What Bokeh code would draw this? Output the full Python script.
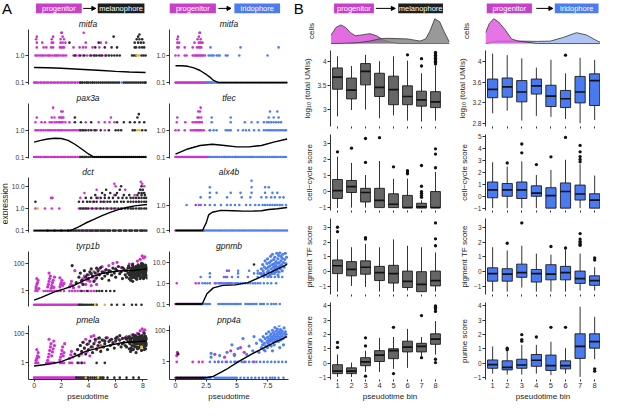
import math
from bokeh.plotting import figure
from bokeh.layouts import column, row
from bokeh.models import Range1d, FixedTicker, Arrow, NormalHead
from bokeh.core.properties import value
from bokeh.embed import file_html
from bokeh.resources import INLINE

FONT = "Liberation Sans"
MAG = "#CC33CC"
BLK = "#2B2B2B"
BLU = "#4F7FEF"
YEL = "#E3B52A"

# ---------------- Panel A data (pseudotime, expression) ----------------
# level rows: expression value -> list of pseudotime positions
MITFA_M_PROG = {0.1: [0.0,0.1,0.2,0.3,0.45,0.55,0.7,0.8,0.95,1.05,1.2,1.3,1.45,1.55,1.7,1.8,1.95,2.05,2.2,2.3,2.45,2.55,2.7,2.8,2.95,3.05,3.2,3.35,3.5,3.9,4.3],
                1: [0.1,0.2,0.35,0.5,0.6,0.7,0.85,1.0,1.1,1.2,1.35,1.5,1.6,1.7,1.8,1.95,2.1,2.2,2.35,2.9,3.1,3.3,3.6,3.9,4.1,4.5,4.9,5.2],
                2: [0.2,0.7,0.9,1.25,1.4,1.9,2.0,2.1,2.2,2.9,3.35,3.6,3.8,4.3,4.8],
                3: [0.2,0.6,1.3,1.4,1.95,2.1,2.3,3.8,4.9,5.3],
                4: [0.15,1.3,1.95,2.2], 5: [0.2,1.4,2.1], 7: [2.0,2.05,3.65]}
MITFA_M_MEL = {0.1: [3.4,3.55,3.7,3.85,4.0,4.15,4.3,4.45,4.6,4.75,4.9,5.05,5.2,5.35,5.5,5.65,5.8,5.95,6.1,6.25,6.6,6.75,6.9,7.05,7.2,7.35,7.5,7.65,7.8,7.95,8.1,8.2],
               1: [3.0,3.4,3.7,4.2,4.4,4.6,4.8,5.0,5.3,5.5,5.7,5.9,6.1,6.3,7.2,7.35,7.5,7.9,8.05,8.2],
               2: [4.5,5.2,5.7,6.1,7.4,7.5,7.75,7.95,8.1],
               3: [2.6,4.75,7.4,7.65,7.85,8.05], 4: [7.55,7.75,7.95], 5: [5.85,7.65], 6: [7.75]}
MITFA_M_IRI = {0.1: [6.45]}
MITFA_M_YEL = {1: [7.55,7.7]}
MITFA_M_CURVE_X = [0,1,2,3,4,5,6,7,8.2]
MITFA_M_CURVE_Y = [0.36,0.355,0.34,0.32,0.30,0.28,0.26,0.245,0.235]

PAX3A_PROG = {0.1: [0.0,0.1,0.2,0.3,0.45,0.55,0.7,0.8,0.95,1.05,1.2,1.3,1.45,1.55,1.7,1.8,1.95,2.05,2.2,2.3,2.45,2.55,2.7,2.8,2.95,3.05,3.2,3.35,3.5,3.65,3.8],
              1: [0.1,0.2,0.3,0.45,0.55,0.7,0.85,1.0,1.1,1.2,1.3,1.45,1.55,1.7,1.8,1.9,2.0,2.1,2.25,2.4,2.55,2.7,2.85,3.0,3.15,3.3,3.5,3.7,4.4,4.6,5.2],
              2: [0.1,0.55,0.8,1.15,1.3,1.5,1.65,1.8,1.9,2.0,2.1,2.3,2.6,3.8,4.75,5.2,5.55,5.9],
              3: [0.2,1.3,1.5,1.85,1.95,2.05,2.15,5.65], 5: [2.0,2.1], 7: [1.4]}
PAX3A_MEL = {0.1: [3.4,3.55,3.7,3.85,4.0,4.15,4.3,4.45,4.6,4.75,4.9,5.05,5.2,5.35,5.5,5.65,5.8,5.95,6.1,6.25,6.4,6.55,6.7,6.85,7.0,7.15,7.3,7.45,7.6,7.75,7.9,8.05,8.2],
             1: [3.4,3.6,3.8,4.0,4.2,4.5,4.9,5.5,6.0,6.2,6.4,7.25,7.4,7.95,8.2],
             2: [3.0,3.45,4.2,6.1,6.6,7.05,7.4,7.75,8.1], 3: [3.0,7.6], 4: [7.7]}
PAX3A_YEL = {1: [7.6,7.75]}
PAX3A_CURVE_X = [0,0.5,1,1.5,2,2.5,3,3.5,4,4.4,5,6,7,8.2]
PAX3A_CURVE_Y = [0.36,0.42,0.47,0.5,0.49,0.42,0.3,0.2,0.13,0.1,0.1,0.1,0.1,0.1]

DCT_PROG = {0.1: [0.0,0.1,0.2,0.3,0.4,0.5,0.6,0.7,0.8,0.9,1.0,1.1,1.2,1.3,1.4,1.5,1.6,1.7,1.8,1.9,2.0,2.1,2.2,2.3,2.4,2.5,2.6,2.8,3.0,3.2,3.4,3.7,4.0,4.4,4.8,5.3],
            1: [0.1,0.8,1.3,1.85,3.3,3.5,3.7,3.9,4.2,4.5,4.8,5.3,5.6,6.0,6.5,7.2,7.8],
            2: [4.3,5.2,7.7], 3: [1.25,1.35,3.4,4.7], 4: [5.9,7.4], 5: [3.7,8.0],
            7: [4.6,6.7,7.85], 10: [6.0,8.1], 13: [5.9,7.95], 16: [7.85]}
DCT_MEL = {0.1: [1.0,1.5,2.0,2.5,2.7,2.9,3.1,3.3,3.5,3.6,3.8,3.9,4.1,4.2,4.3,4.5,4.6,4.7,4.9,5.0,5.1,5.2,5.4,5.5,5.6,5.8,5.9,6.0,6.2,6.3,6.4,6.6,6.7,6.8,7.0,7.1,7.2,7.4,7.5,7.6,7.8,7.9,8.0,8.15,8.3],
           1: [3.4,3.6,3.8,4.0,4.3,4.6,4.9,5.1,5.4,5.7,5.9,6.2,6.4,6.7,6.9,7.1,7.3,7.5,7.7,7.9,8.1,8.25],
           2: [0.1,3.3,3.6,3.9,4.1,4.4,4.6,4.9,5.1,5.4,5.6,5.9,6.1,6.4,6.6,6.9,7.1,7.3,7.5,7.7,7.9,8.1,8.25],
           3: [3.8,4.2,4.6,4.9,5.2,5.5,5.8,6.2,6.5,6.8,7.1,7.3,7.5,7.7,7.9,8.1,8.25],
           4: [4.5,5.2,6.0,6.6,7.0,7.6,7.9,8.15], 5: [5.0,5.6,6.1,7.7,7.9,8.1],
           7: [5.3,6.3,7.8,8.0], 10: [6.4,7.9]}
DCT_YEL = {1: [0.25]}
DCT_CURVE_X = [0,1,2,2.66,3.2,3.8,4.4,5.0,5.6,6.2,6.8,7.4,8.3]
DCT_CURVE_Y = [0.1,0.1,0.1,0.1,0.14,0.22,0.32,0.47,0.66,0.88,1.1,1.3,1.5]

TYRP1B_PROG = {0.1: [0.0,0.1,0.2,0.3,0.4,0.5,0.6,0.7,0.8,0.9,1.0,1.1,1.2,1.3,1.4,1.5,1.6,1.7,1.8,1.9,2.0,2.1,2.2,2.3,2.4,2.5,2.6,2.7,2.8,2.9,3.0,3.1,3.2,3.35,3.5],
               1: [0.1,0.25,0.7,0.85,1.0,1.15,1.3,1.5,1.65,1.8,1.95,2.2,2.6,2.8,3.0,3.2,3.4,3.7,4.0,4.2,4.4]}
TYRP1B_MEL = {0.1: [3.3,3.45,3.6,3.75,3.9,4.05,4.2,4.35,4.6,5.7,6.1,6.6,7.2,7.5,7.9],
              1: [3.5,3.9,4.6,4.8,5.0,5.3,5.6,5.9]}
TYRP1B_YEL = {0.1: [4.5,5.2]}
TYRP1B_PROG_CLOUD = [(0.15,2),(0.2,3),(0.25,4),(0.3,6),(0.2,8),(0.35,1.5),(0.15,1.4),(1.0,2),(1.05,3),(1.1,5),(1.15,8),(1.2,12),(1.3,2.5),(1.35,4),(1.4,6),(1.5,10),(1.1,20),(1.25,1.6),(1.45,1.8),(1.9,2),(1.95,3),(2.0,4),(2.05,6),(2.1,2.5),(2.2,3.5),(1.9,9),(2.6,2),(2.7,3),(2.75,5),(2.85,2.5),(2.9,1.7),(3.0,30),(3.3,2),(3.5,4),(3.6,8),(3.7,12),(3.8,3),(3.9,6),(4.0,15),(4.1,5),(4.2,2.5),(4.3,10),(4.4,25),(4.5,7),(4.6,3),(4.7,18),(4.8,40),(5.0,60),(5.2,30),(5.5,70),(5.8,100),(6.1,120),(6.4,50),(6.7,30),(7.0,90),(7.4,40),(7.6,150),(7.8,200),(7.95,350),(8.05,250),(8.15,300)]
TYRP1B_MEL_CLOUD = [(2.8,70),(3.1,4),(3.3,10),(3.4,20),(3.5,6),(3.6,3),(3.7,30),(3.8,10),(3.9,15),(4.0,8),(4.1,25),(4.2,40),(4.3,12),(4.4,5),(4.5,20),(4.6,9),(4.7,30),(4.8,15),(4.9,50),(5.0,8),(5.1,22),(5.2,12),(5.3,35),(5.4,18),(5.5,6),(5.6,28),(5.7,14),(5.8,45),(5.9,20),(6.0,10),(6.1,30),(6.2,60),(6.3,18),(6.4,25),(6.5,8),(6.6,40),(6.7,15),(6.8,30),(6.9,20),(7.0,50),(7.1,12),(7.15,35),(7.2,25),(7.25,70),(7.3,15),(7.35,45),(7.4,30),(7.45,9),(7.5,60),(7.55,20),(7.6,40),(7.65,80),(7.7,12),(7.75,30),(7.8,50),(7.85,22),(7.9,100),(7.95,40),(8.0,15),(8.05,65),(8.1,30),(8.15,45),(8.2,20),(8.25,55),(7.1,6),(7.2,9),(7.3,40),(7.4,18),(7.5,11),(7.6,25),(7.7,60),(7.8,8),(7.9,35),(8.0,28),(8.1,10),(8.2,75),(8.25,14),(7.05,22),(7.35,28),(7.65,16),(7.95,60),(8.15,24),(7.25,5),(7.55,35),(7.85,45),(8.05,18),(7.45,55),(7.75,20),
                    (6.8,10),(6.9,45),(7.0,15),(7.0,8),(7.1,30),(7.15,18),(7.2,45),(7.3,10),(7.35,20),(7.4,50),(7.45,14),(7.5,35),(7.55,7),(7.6,55),(7.65,30),(7.7,20),(7.75,45),(7.8,15),(7.85,70),(7.9,10),(7.95,25),(8.0,45),(8.05,8),(8.1,55),(8.15,12),(8.2,35),(8.25,28),(8.3,40),(8.3,9),(6.95,65),(7.25,90),(7.6,12),(8.0,90),(6.5,50),(6.0,40),(5.5,30),(5.0,25),(4.6,45),(4.2,18)]
TYRP1B_CURVE_X = [0,0.5,1.5,2.2,2.9,3.8,4.4,5.0,6.1,7.3,8.3]
TYRP1B_CURVE_Y = [0.215,0.33,0.86,1.4,2.4,6.6,12,18.5,28,31,40]

PMELA_PROG = {0.1: [0.0,0.1,0.2,0.3,0.4,0.5,0.6,0.7,0.8,0.9,1.0,1.1,1.2,1.3,1.4,1.5,1.6,1.7,1.8,1.9,2.0,2.1,2.2,2.3,2.4,2.5,2.6,2.7,2.8,2.9,3.0,3.1,3.2,3.35,3.5,3.65,3.8],
              1: [0.1,0.2,0.3,0.9,1.0,1.1,1.2,1.3,1.4,1.5,1.9,2.0,2.1,2.2,2.6,2.7,2.8,3.3,3.5,3.7]}
PMELA_MEL = {0.1: [3.1,3.25,3.4,3.55,3.7,3.9,4.0,4.15,4.3,4.45,4.6,4.85,5.0,5.1,5.4,5.9,6.3,6.8,7.3,7.7],
             1: [3.2,3.5,4.6,5.2]}
PMELA_YEL = {0.1: [3.8,4.7]}
PMELA_PROG_CLOUD = [(0.15,1.5),(0.2,2),(0.25,3),(0.3,5),(0.2,8),(0.35,2.5),(1.0,1.5),(1.05,2.5),(1.1,4),(1.15,7),(1.2,12),(1.25,20),(1.3,3),(1.35,5.5),(1.4,9),(1.45,30),(1.5,15),(1.1,40),(1.9,1.6),(1.95,2.5),(2.0,4),(2.05,7),(2.1,12),(2.15,3),(2.2,5),(2.25,20),(2.6,2),(2.7,3.5),(2.75,6),(2.85,2.5),(3.2,8),(3.4,15),(3.5,4),(3.6,25),(3.7,10),(3.8,40),(3.9,6),(4.0,20),(4.1,3),(4.2,60),(4.3,12),(4.4,70),(4.5,30),(4.6,8),(4.7,45),(4.9,15),(5.1,35),(5.4,50),(5.8,25),(6.2,40),(6.8,60),(7.2,80),(7.6,100),(7.8,150),(7.95,200),(8.05,130),(8.15,170)]
PMELA_MEL_CLOUD = [(3.0,4),(3.2,8),(3.3,3),(3.4,15),(3.5,6),(3.6,25),(3.7,10),(3.8,4),(3.9,18),(4.0,8),(4.1,30),(4.2,12),(4.3,5),(4.4,20),(4.5,40),(4.6,9),(4.7,15),(4.8,25),(4.9,6),(5.0,35),(5.1,12),(5.2,20),(5.3,50),(5.4,8),(5.5,28),(5.6,15),(5.7,40),(5.8,22),(5.9,10),(6.0,30),(6.1,55),(6.2,18),(6.3,35),(6.4,12),(6.5,45),(6.6,25),(6.7,15),(6.8,40),(6.9,28),(7.0,60),(7.05,20),(7.1,35),(7.15,10),(7.2,50),(7.25,25),(7.3,80),(7.35,15),(7.4,40),(7.45,30),(7.5,60),(7.55,12),(7.6,45),(7.65,25),(7.7,90),(7.75,35),(7.8,18),(7.85,55),(7.9,30),(7.95,70),(8.0,22),(8.05,45),(8.1,100),(8.15,30),(8.2,60),(8.25,40),(7.1,6),(7.3,8),(7.5,5),(7.7,10),(7.9,7),(8.1,12),(8.2,9),(7.6,20),(7.8,65),(8.0,35),(7.4,22),(7.2,15),(8.15,18),(7.95,48),(7.65,38),(7.35,55),(7.05,42),
                   (6.8,12),(6.9,50),(7.0,25),(7.0,9),(7.1,45),(7.15,28),(7.2,8),(7.3,25),(7.35,35),(7.4,12),(7.45,70),(7.5,20),(7.55,40),(7.6,9),(7.65,55),(7.7,28),(7.75,12),(7.8,40),(7.85,22),(7.9,60),(7.95,15),(8.0,50),(8.05,28),(8.1,8),(8.15,65),(8.2,25),(8.25,15),(8.3,45),(8.3,20),(6.5,20),(6.0,45),(5.6,35),(5.2,30),(4.8,50),(6.3,70),(6.7,50)]
PMELA_YEL_CLOUD = [(4.9,10),(7.9,12)]
PMELA_CURVE_X = [0,1,2,3,3.8,4.7,5.5,6.3,7.2,8.3]
PMELA_CURVE_Y = [0.62,0.8,1.2,2.8,6,10,15,22,26,31]

MITFA_I_PROG = {0.1: [0.0,0.1,0.2,0.3,0.4,0.5,0.6,0.7,0.8,0.9,1.0,1.1,1.2,1.3,1.4,1.5,1.6,1.7,1.8,1.9,2.0,2.1,2.2,2.3,2.4,2.5,2.6,2.7,2.9],
                1: [0.0,0.25,0.75,0.9,1.4,1.55,1.65,1.75,1.85,1.95,2.05,2.15,2.25,2.4],
                2: [0.15,0.25,0.75,1.4,1.75,1.9,2.0,2.1], 3: [0.15,0.3,1.55,1.9,2.0,2.1,2.2],
                4: [0.15,1.8,2.05], 5: [0.2,1.9], 7: [1.95,2.0]}
MITFA_I_IRI = {0.1: [2.6,2.75,2.9,3.05,3.2,3.35,3.5,3.65,3.8,3.95,4.1,4.25,4.4,4.55,4.7,4.85,5.0,5.15,5.3,5.45,5.6,5.75,5.9,6.05,6.2,6.35,6.5,6.65,6.8,6.95,7.1,7.25,7.4,7.55,7.7,7.85,8.0,8.15,8.3,8.45,8.6,8.75,8.9,9.05],
               1: [2.7,2.85,3.0,3.1,3.35,3.5,3.6,4.1,4.25,5.2,7.5], 2: [2.85,5.3,8.4]}
MITFA_I_CURVE_X = [0,0.5,1,1.5,2,2.5,2.8,3.1,3.5,4,5,6,7,8,9.1]
MITFA_I_CURVE_Y = [0.42,0.42,0.4,0.35,0.28,0.2,0.16,0.12,0.1,0.1,0.1,0.1,0.1,0.1,0.1]

TFEC_PROG = {0.1: [0.0,0.1,0.2,0.3,0.4,0.5,0.6,0.7,0.8,0.9,1.0,1.1,1.2,1.3,1.4,1.5,1.6,1.7,1.8,1.9,2.0,2.1,2.2,2.3,2.4,2.5,2.6,2.8,4.0,4.9,6.2],
             1: [0.0,0.25,0.75,1.25,1.4,1.55,1.65,1.75,1.85,1.95,2.05,2.15,2.3,2.8],
             2: [0.1,0.8,1.4,1.6,1.75,1.9,2.0,2.15], 3: [0.15,1.8,1.9,2.1], 5: [1.85,2.0], 7: [2.05]}
TFEC_IRI = {0.1: [2.7,2.85,3.0,3.15,3.3,3.45,3.6,3.75,3.9,4.05,4.2,4.35,4.5,4.65,4.8,4.95,5.1,5.25,5.4,5.55,5.7,5.85,6.0,6.15,6.3,6.45,6.6,6.75,6.9,7.05,7.2,7.35,7.5,7.65,7.8,7.95,8.1,8.25,8.4,8.55,8.7,8.85,9.0],
            1: [2.8,3.1,3.35,4.1,4.25,4.4,4.5,5.1,5.5,5.75,6.0,6.4,6.8,7.2,7.4,7.55,7.7,7.85,8.0,8.15,8.3,8.45,8.6,8.75,8.9,9.0],
            2: [2.95,4.5,5.65,6.2,6.7,7.2,7.45,7.6,7.8,8.0,8.2,8.4,8.6], 3: [2.95,4.5,7.6,8.0,8.4], 5: [7.7,8.3]}
TFEC_CURVE_X = [0,1,2,3,4,5,6,7,8,9.1]
TFEC_CURVE_Y = [0.128,0.2,0.27,0.3,0.27,0.24,0.24,0.27,0.36,0.47]

ALX4B_PROG = {0.1: [0.0,0.1,0.2,0.3,0.4,0.5,0.6,0.7,0.8,0.9,1.0,1.1,1.2,1.3,1.4,1.5,1.6,1.7,1.8,1.9,2.0,2.1,2.2,2.3],
              1: [1.65,2.05]}
ALX4B_IRI = {0.1: [2.2,2.35,2.5,2.65,2.8,2.95,3.1,3.25,3.4,3.55,3.7,3.85,4.0,4.15,4.3,4.45,4.6,4.75,4.9,5.05,5.2,5.35,5.5,5.65,5.8,5.95,6.1,6.25,6.4,6.55,6.7,6.85,7.0,7.15,7.3,7.45,7.6,7.75,7.9,8.05,8.2,8.35,8.5,8.65,8.8,8.95,9.1],
             1: [0.9,1.9,2.4,2.8,3.2,3.7,4.2,4.5,4.85,5.2,5.75,6.1,6.5,6.8,7.1,7.3,7.5,7.7,7.9,8.1,8.3,8.5,8.7,9.0],
             2: [2.05,2.8,4.2,5.4,6.1,7.0,7.4,7.8,8.1,8.5,8.8], 3: [2.8,3.35,4.5,5.3,6.2,7.3,7.9,8.3],
             5: [2.8,6.2,7.3,7.6], 9: [6.2]}
ALX4B_CURVE_X = [0,1,2,2.2,2.5,2.7,3.0,3.7,4.7,5.5,6.3,7.0,7.6,8.3,9.1]
ALX4B_CURVE_Y = [0.1,0.1,0.1,0.1,0.2,0.41,0.52,0.62,0.6,0.58,0.58,0.6,0.67,0.72,0.8]

GPNMB_PROG = {0.1: [0.0,0.15,0.3,0.45,0.6,0.75,0.9,1.05,1.2,1.35,1.5,1.65,1.8,1.95,2.1],
              1: [0.1,1.65,1.9,3.2,3.7,4.2,4.5], 2: [3.95,4.2], 4: [4.2,4.35]}
GPNMB_MEL = {0.1: [0.08,0.22,0.38,0.52,0.68,0.82,0.98,1.12,1.28,1.42,1.58,1.72,1.88,2.02,2.15], 8: [6.4]}
GPNMB_IRI = {0.1: [2.2,2.35,2.5,2.65,2.8,3.5,3.65,3.8,3.95,4.1,4.25,4.4,4.55,4.7,4.85,5.0,5.15,5.3,5.7,5.85,6.0,6.15,6.3,6.45,6.6,6.9,7.05,7.2,7.5,7.8,8.0,8.2,8.5],
             1: [2.2,2.4,2.6,2.8,3.3,3.5,3.6,3.8,3.95,4.1,4.3,4.4,4.6,4.8,4.95,5.1,5.3,5.5,5.7,5.9,6.1,6.3,6.5,6.7,6.9,7.2,7.5,7.8,8.2],
             2: [2.05,2.8,4.1,4.6,5.1,5.9,6.7,7.2,7.5,7.8,8.1,8.4,8.7], 3: [2.8,5.1,6.4,6.7,7.0], 4: [4.2,5.1,6.0,6.7]}
GPNMB_IRI_CLOUD = [(6.9,3),(7.0,5),(7.05,2.5),(7.1,8),(7.15,4),(7.2,3),(7.25,6),(7.3,12),(7.35,2.5),(7.4,5),(7.45,9),(7.5,3.5),(7.5,15),(7.55,6),(7.6,4),(7.65,10),(7.7,2.5),(7.7,7),(7.75,20),(7.8,5),(7.8,12),(7.85,3),(7.9,8),(7.9,25),(7.95,4),(8.0,6),(8.0,14),(8.05,3),(8.05,9),(8.1,5),(8.1,18),(8.15,7),(8.2,3.5),(8.2,11),(8.25,6),(8.25,28),(8.3,4),(8.3,9),(8.35,15),(8.4,6),(8.4,22),(8.45,3.5),(8.45,10),(8.5,7),(8.5,30),(8.55,5),(8.6,12),(8.6,20),(8.65,8),(8.7,4),(8.7,16),(8.75,25),(8.8,10),(8.85,6),(8.9,14),(8.95,28),(9.0,9),(9.05,18),(8.35,2.5),(7.6,2.2)]
GPNMB_CURVE_X = [0,1,2,2.18,2.56,3.08,3.85,4.87,5.9,6.92,7.95,9.1]
GPNMB_CURVE_Y = [0.1,0.1,0.1,0.1,0.31,0.6,0.79,0.84,1.07,1.97,3.9,8.2]

PNP4A_PROG = {0.1: [0.0,0.15,0.3,0.45,0.6,0.75,0.9,1.05,1.2,1.35,1.5,1.65,1.8,1.95,2.1,2.25,2.4],
              1: [0.1,1.4,1.9,2.2,3.5,4.1,4.9,5.6,6.4]}
PNP4A_MEL = {0.1: [0.08,0.22,0.38,0.52,0.68,0.82,0.98,1.12,1.28,1.42,1.58,1.72,1.88,2.02,2.18,2.32]}
PNP4A_IRI = {0.1: [2.4,2.55,2.7,2.85,3.2,3.35,3.5,3.65,3.8,3.95,4.1,4.25,4.4,4.55,4.7,4.85,5.0,5.3,5.6,5.9,6.2,6.5,6.8,7.1,7.4,7.7,7.9,8.1,8.4,8.8],
             1: [2.8,3.2,3.5,3.8,4.2,4.5,4.8,5.1,5.4,5.7,6.0,6.3,6.6,6.9,7.2,7.5,7.8,8.1,8.4,8.7,9.0]}
PNP4A_PROG_CLOUD = [(0.1,2.5),(0.15,4),(3.2,3),(4.5,5),(4.8,3),(5.3,8),(5.6,4),(4.0,2)]
PNP4A_MEL_CLOUD = [(0.2,3.2)]
PNP4A_IRI_CLOUD = [(2.9,2),(2.9,3.5),(3.6,2.5),(4.2,4),(4.6,12),(4.8,2.5),(5.1,7),(5.5,30),(5.8,3),(6.0,10),(6.3,5),(6.4,40),(6.6,15),(6.8,4),(6.9,25),(7.0,8),(7.05,20),(7.1,12),(7.15,40),(7.2,6),(7.25,15),(7.3,30),(7.35,10),(7.4,60),(7.45,20),(7.5,8),(7.5,35),(7.55,15),(7.6,25),(7.6,80),(7.65,12),(7.7,45),(7.7,20),(7.75,30),(7.8,10),(7.8,60),(7.85,25),(7.9,40),(7.9,100),(7.95,18),(8.0,30),(8.0,70),(8.05,12),(8.05,50),(8.1,25),(8.1,150),(8.15,40),(8.2,20),(8.2,90),(8.25,60),(8.3,30),(8.3,120),(8.35,45),(8.4,20),(8.4,80),(8.45,200),(8.5,35),(8.5,60),(8.55,110),(8.6,25),(8.6,70),(8.65,45),(8.7,90),(8.75,30),(8.8,60),(8.85,140),(8.9,40),(8.95,80),(9.0,55),(7.3,5),(7.9,5),(8.5,8),(8.8,12)]
PNP4A_CURVE_X = [0,1,2,2.4,3.08,4.1,5.1,6.2,7.2,8.2,9.1]
PNP4A_CURVE_Y = [0.1,0.1,0.1,0.1,0.12,0.32,1.0,3.1,7.6,18.8,40]

# ---------------- Panel B data (pseudotime bins) ----------------
BINS = [1, 2, 3, 4, 5, 6, 7, 8]
UMI_MEL_LO = [2.86,2.99,3.0,2.82,2.88,2.77,2.75,2.77]
UMI_MEL_Q1 = [3.42,3.22,3.51,3.27,3.10,3.10,3.07,3.04]
UMI_MEL_MED = [3.67,3.40,3.79,3.46,3.41,3.27,3.20,3.16]
UMI_MEL_Q3 = [3.86,3.65,3.95,3.75,3.69,3.49,3.38,3.37]
UMI_MEL_HI = [4.1,3.9,4.13,4.0,4.1,4.01,3.75,3.9]
UMI_MEL_OUT = [[],[],[],[],[],[4.13],[4.05,3.9],[4.18,4.15,4.12,4.09,4.06,4.03,4.0,3.97,3.94]]

UMI_IRI_LO = [3.0,3.05,2.86,2.95,2.93,2.89,2.81,2.87]
UMI_IRI_Q1 = [3.30,3.31,3.22,3.37,3.13,3.11,3.20,3.15]
UMI_IRI_MED = [3.46,3.51,3.41,3.53,3.33,3.28,3.41,3.63]
UMI_IRI_Q3 = [3.66,3.68,3.63,3.66,3.54,3.44,3.71,3.76]
UMI_IRI_HI = [4.15,4.12,4.06,3.88,4.03,3.77,4.07,4.03]
UMI_IRI_OUT = [[],[],[],[],[],[4.12],[],[]]

CC_MEL_LO = [-1.03,-1.0,-1.0,-1.0,-1.0,-1.0,-1.03,-1.0]
CC_MEL_Q1 = [-0.43,-0.06,-0.65,-1.0,-1.0,-1.0,-1.03,-1.0]
CC_MEL_MED = [0.06,0.30,-0.06,-0.55,-0.79,-1.0,-0.95,-1.0]
CC_MEL_Q3 = [0.75,0.69,0.2,0.2,-0.14,-0.24,-0.73,0.0]
CC_MEL_HI = [2.17,1.78,1.03,1.9,0.79,0.8,-0.55,1.22]
CC_MEL_OUT = [[2.47],[2.7],[3.3,1.81],[3.35],[1.54],[1.3,1.2,1.1],[1.62,0.33,0.0,-0.1,-0.24,-0.36],[2.66,2.33,1.48]]

CC_IRI_LO = [-1.0,-1.0,-1.0,-1.0,-1.0,-1.0,-1.0,-1.0]
CC_IRI_Q1 = [-0.13,0.0,-0.19,0.0,-1.0,-1.0,-0.32,-1.0]
CC_IRI_MED = [0.53,0.53,0.53,0.27,0.05,0.4,0.19,-0.32]
CC_IRI_Q3 = [1.2,1.07,1.2,0.88,0.72,1.12,0.94,0.21]
CC_IRI_HI = [2.86,2.5,2.94,1.79,2.22,3.07,2.7,1.74]
CC_IRI_OUT = [[],[2.8],[4.4,3.66],[2.67],[3.32],[4.95],[4.28,3.74,3.34,3.1,2.9],[]]

PTF_MEL_LO = [-1.35,-0.96,-1.03,-1.35,-1.35,-1.28,-1.35,-1.35]
PTF_MEL_Q1 = [-0.13,-0.28,-0.17,-0.6,-0.77,-1.07,-1.35,-0.96]
PTF_MEL_MED = [0.4,0.15,0.3,-0.06,-0.13,-0.66,-0.85,-0.6]
PTF_MEL_Q3 = [0.79,0.68,0.73,0.36,0.43,0.04,0.0,0.04]
PTF_MEL_HI = [2.18,1.65,1.86,1.65,2.18,1.75,1.65,1.3]
PTF_MEL_OUT = [[3.0,2.7],[],[2.29,2.2],[],[],[],[],[3.29,2.22,1.75]]

PTF_IRI_LO = [-1.35,-1.35,-1.07,-1.35,-1.35,-1.35,-1.28,-1.28]
PTF_IRI_Q1 = [-0.64,-0.64,-0.38,-0.7,-0.55,-0.55,-0.79,-0.92]
PTF_IRI_MED = [-0.13,-0.17,-0.06,-0.13,-0.17,-0.06,-0.47,-0.6]
PTF_IRI_Q3 = [0.26,0.2,0.51,0.15,0.47,0.36,0.04,-0.28]
PTF_IRI_HI = [1.65,1.43,1.75,1.22,1.15,1.5,1.22,0.3]
PTF_IRI_OUT = [[],[1.92],[3.29],[],[1.7],[1.6],[2.57,2.2,2.05,1.95,1.85,1.77],[0.93,0.79]]

MELANIN_LO = [-0.96,-0.96,-0.62,-0.62,-0.4,-0.33,0.49,0.6]
MELANIN_Q1 = [-0.73,-0.73,-0.18,0.11,0.31,0.78,0.78,1.31]
MELANIN_MED = [-0.56,-0.56,0.09,0.56,0.87,1.11,1.16,1.67]
MELANIN_Q3 = [-0.11,-0.33,0.38,0.87,1.0,1.53,1.38,2.04]
MELANIN_HI = [0.6,0.04,0.87,1.76,1.82,2.38,1.82,2.93]
MELANIN_OUT = [[1.44,1.09],[],[1.76,1.2,-0.91],[],[2.49,-0.73],[],[3.31,0.38],[3.98,3.89,3.76,3.6,0.27,0.04]]

PURINE_LO = [-0.73,-0.8,-0.8,-0.73,-0.84,-0.73,-0.96,0.27]
PURINE_Q1 = [-0.36,-0.47,-0.36,-0.22,-0.51,-0.4,0.33,1.04]
PURINE_MED = [-0.11,-0.29,-0.13,0.2,-0.18,-0.18,1.16,1.49]
PURINE_Q3 = [0.22,0.16,0.27,0.6,0.56,0.16,2.04,2.04]
PURINE_HI = [1.16,0.82,1.27,1.27,1.49,1.04,3.93,3.22]
PURINE_OUT = [[],[1.04,0.93],[1.98,1.64,1.53],[1.82],[2.49],[2.49],[],[-0.4,-0.56]]

# densities of cells along pseudotime (in bin units)
DENS_MEL_PROG_X = [0.54,0.89,1.24,1.58,1.93,2.28,2.74,3.32,3.78,4.25,4.82,5.52,9.0]
DENS_MEL_PROG_Y = [27,52,60,52,35,25,28,32,25,12,4,0,0]
DENS_MEL_MEL_X = [0.54,1.5,2.5,3.3,4.0,4.5,5.2,6.0,6.5,6.9,7.3,7.6,7.95,8.3,8.6,8.99]
DENS_MEL_MEL_Y = [0,1,3,8,15,17,16,15,11,8,15,40,80,70,40,5]
DENS_IRI_PROG_X = [0.51,0.78,1.07,1.4,1.85,2.3,2.74,3.63,4.08,8.4]
DENS_IRI_PROG_Y = [35,65,80,70,45,15,8,3,0,0]
DENS_IRI_IRI_X = [0.51,1.4,2.74,4.08,4.97,5.86,6.75,7.42,8.2,8.5]
DENS_IRI_IRI_Y = [0,8,8,7,8,20,35,28,8,2]

HEADER_BOXES = [("progenitor", 36.5, 83.5, "#C83FC8"), ("melanophore", 100, 148, "#1E1E1E"),
                ("progenitor", 174, 221.5, "#C83FC8"), ("iridophore", 240.5, 287.5, "#4C7CF0"),
                ("progenitor", 343, 384, "#C83FC8"), ("melanophore", 409, 455, "#1E1E1E"),
                ("progenitor", 500, 546.5, "#C83FC8"), ("iridophore", 570, 615, "#4C7CF0")]
HEADER_ARROWS = [(85, 98), (224, 237), (386, 406), (551, 568)]


def expand(levels):
    xs, ys = [], []
    for lvl, xl in levels.items():
        xs += list(xl)
        ys += [lvl] * len(xl)
    return xs, ys


def unpair(pairs):
    return [p[0] for p in pairs], [p[1] for p in pairs]


def clean(p):
    p.outline_line_color = None
    p.xgrid.visible = False
    p.ygrid.visible = False
    p.background_fill_color = "white"
    p.border_fill_color = "white"


def style_axis(ax, fs="6.5px"):
    ax.axis_line_color = "#333333"
    ax.axis_line_width = 1
    ax.major_tick_line_color = "#333333"
    ax.major_tick_out = 3
    ax.major_tick_in = 0
    ax.minor_tick_line_color = None
    ax.major_label_text_font = FONT
    ax.major_label_text_font_size = fs
    ax.major_label_text_color = "#333333"
    ax.major_label_standoff = 1
    ax.axis_label_text_font = FONT
    ax.axis_label_text_font_style = "normal"
    ax.axis_label_text_font_size = "8px"
    ax.axis_label_text_color = "#222222"
    ax.axis_label_standoff = 1


def a_panel(title, xr, yr, yticks, ylabels, layers, clouds, cx, cy, last, xticks):
    h = 91 if last else 74
    p = figure(width=141, height=h, x_range=Range1d(*xr), y_range=Range1d(*yr), y_axis_type="log",
               title=title, output_backend="svg", toolbar_location=None,
               min_border_left=17, min_border_right=2, min_border_top=12,
               min_border_bottom=23 if last else 6)
    clean(p)
    p.title.text_font = FONT
    p.title.text_font_style = "italic"
    p.title.text_font_size = "8.5px"
    p.title.align = "center"
    p.title.standoff = 1
    p.title.text_color = "#111111"
    style_axis(p.yaxis[0])
    p.yaxis.ticker = FixedTicker(ticks=yticks)
    p.yaxis.major_label_overrides = dict(zip(yticks, ylabels))
    if last:
        style_axis(p.xaxis[0], "7px")
        p.xaxis.ticker = FixedTicker(ticks=xticks)
        p.xaxis.axis_label = "pseudotime"
        p.xaxis.major_tick_out = 2
    else:
        p.xaxis.visible = False
    for levels, col in layers:
        xs, ys = expand(levels)
        p.scatter(xs, ys, size=2.6, fill_color=col, line_color=None)
    for pairs, col in clouds:
        xs, ys = unpair(pairs)
        p.scatter(xs, ys, size=3.2, fill_color=col, line_color=None)
    p.line(cx, cy, line_color="black", line_width=1.4)
    return p


def box_panel(width, bl, br, yr, yticks, ylabel, stats, fill, last, xr):
    lo, q1, med, q3, hi, outs = stats
    h = 105 if last else 84
    p = figure(width=width, height=h, x_range=Range1d(*xr), y_range=Range1d(*yr),
               output_backend="svg", toolbar_location=None,
               min_border_left=bl, min_border_right=br, min_border_top=4,
               min_border_bottom=24 if last else 4)
    clean(p)
    style_axis(p.yaxis[0])
    p.yaxis.ticker = FixedTicker(ticks=yticks)
    p.yaxis.axis_label = ylabel
    p.yaxis.axis_label_standoff = 2
    style_axis(p.xaxis[0], "7.5px")
    p.xaxis.axis_line_color = None
    if last:
        p.xaxis.ticker = FixedTicker(ticks=BINS)
        p.xaxis.major_tick_out = 2
        p.xaxis.axis_label = "pseudotime bin"
    else:
        # tick marks only, no labels
        p.xaxis.ticker = FixedTicker(ticks=[], minor_ticks=BINS)
        p.xaxis.minor_tick_line_color = "#333333"
        p.xaxis.minor_tick_out = 2
        p.xaxis.minor_tick_in = 0
        p.xaxis.major_label_standoff = 0
    p.segment(x0=BINS, y0=lo, x1=BINS, y1=hi, line_color="#333333", line_width=1)
    p.vbar(x=BINS, width=0.7, bottom=q1, top=q3, fill_color=fill, line_color="#1a1a1a", line_width=0.9)
    p.segment(x0=[b - 0.35 for b in BINS], y0=med, x1=[b + 0.35 for b in BINS], y1=med,
              line_color="#111111", line_width=1.7)
    ox, oy = [], []
    for b, o in zip(BINS, outs):
        ox += [b] * len(o)
        oy += o
    p.scatter(ox, oy, size=3.3, fill_color="#111111", line_color=None)
    return p


def dens_panel(width, bl, br, xr, series):
    p = figure(width=width, height=30, x_range=Range1d(*xr), y_range=Range1d(-3, 84),
               output_backend="svg", toolbar_location=None,
               min_border_left=bl, min_border_right=br, min_border_top=1, min_border_bottom=2)
    clean(p)
    p.xaxis.visible = False
    ax = p.yaxis[0]
    style_axis(ax)
    ax.ticker = FixedTicker(ticks=[])
    ax.axis_line_color = None
    ax.major_tick_line_color = None
    ax.axis_label = "cells"
    ax.axis_label_standoff = 15
    for xs, ys, col, alpha in series:
        p.varea(x=xs, y1=[0] * len(xs), y2=ys, fill_color=col, fill_alpha=alpha)
        p.line(xs, ys, line_color="#333333", line_width=0.8)
    return p


XR_AL = (-0.41, 8.34)
XR_AR = (-0.49, 9.21)

colAL = column(
    a_panel("mitfa", XR_AL, (0.085, 9.2), [0.1, 1], ["0.1", "1.0"],
            [(MITFA_M_PROG, MAG), (MITFA_M_MEL, BLK), (MITFA_M_IRI, BLU), (MITFA_M_YEL, YEL)], [],
            MITFA_M_CURVE_X, MITFA_M_CURVE_Y, False, None),
    a_panel("pax3a", XR_AL, (0.088, 10), [0.1, 1], ["0.1", "1.0"],
            [(PAX3A_PROG, MAG), (PAX3A_MEL, BLK), (PAX3A_YEL, YEL)], [],
            PAX3A_CURVE_X, PAX3A_CURVE_Y, False, None),
    a_panel("dct", XR_AL, (0.082, 25), [0.1, 1, 10], ["0.1", "1.0", "10.0"],
            [(DCT_PROG, MAG), (DCT_MEL, BLK), (DCT_YEL, YEL)], [],
            DCT_CURVE_X, DCT_CURVE_Y, False, None),
    a_panel("tyrp1b", XR_AL, (0.074, 740), [1, 100], ["1", "100"],
            [(TYRP1B_PROG, MAG), (TYRP1B_MEL, BLK), (TYRP1B_YEL, YEL)],
            [(TYRP1B_PROG_CLOUD, MAG), (TYRP1B_MEL_CLOUD, BLK)],
            TYRP1B_CURVE_X, TYRP1B_CURVE_Y, False, None),
    a_panel("pmela", XR_AL, (0.075, 340), [1, 100], ["1", "100"],
            [(PMELA_PROG, MAG), (PMELA_MEL, BLK), (PMELA_YEL, YEL)],
            [(PMELA_PROG_CLOUD, MAG), (PMELA_MEL_CLOUD, BLK), (PMELA_YEL_CLOUD, YEL)],
            PMELA_CURVE_X, PMELA_CURVE_Y, True, [0, 2, 4, 6, 8]),
)

colAR = column(
    a_panel("mitfa", XR_AR, (0.085, 9.2), [0.1, 1], ["0.1", "1.0"],
            [(MITFA_I_PROG, MAG), (MITFA_I_IRI, BLU)], [],
            MITFA_I_CURVE_X, MITFA_I_CURVE_Y, False, None),
    a_panel("tfec", XR_AR, (0.088, 10), [0.1, 1], ["0.1", "1.0"],
            [(TFEC_PROG, MAG), (TFEC_IRI, BLU)], [],
            TFEC_CURVE_X, TFEC_CURVE_Y, False, None),
    a_panel("alx4b", XR_AR, (0.084, 12), [0.1, 1], ["0.1", "1.0"],
            [(ALX4B_PROG, MAG), (ALX4B_IRI, BLU)], [],
            ALX4B_CURVE_X, ALX4B_CURVE_Y, False, None),
    a_panel("gpnmb", XR_AR, (0.076, 34), [0.1, 1, 10], ["0.1", "1.0", "10.0"],
            [(GPNMB_PROG, MAG), (GPNMB_MEL, BLK), (GPNMB_IRI, BLU)],
            [(GPNMB_IRI_CLOUD, BLU)],
            GPNMB_CURVE_X, GPNMB_CURVE_Y, False, None),
    a_panel("pnp4a", XR_AR, (0.077, 200), [1, 100], ["1", "100"],
            [(PNP4A_PROG, MAG), (PNP4A_MEL, BLK), (PNP4A_IRI, BLU)],
            [(PNP4A_PROG_CLOUD, MAG), (PNP4A_MEL_CLOUD, BLK), (PNP4A_IRI_CLOUD, BLU)],
            PNP4A_CURVE_X, PNP4A_CURVE_Y, True, [0, 2.5, 5, 7.5]),
)

XR_BL = (0.5, 9.0)
XR_BR = (0.51, 8.4)
GRAY = "#666666"
BBLUE = "#4A7AF0"

colBL = column(
    dens_panel(164, 40, 5, XR_BL, [(DENS_MEL_PROG_X, DENS_MEL_PROG_Y, "#E05CE0", 0.9),
                                   (DENS_MEL_MEL_X, DENS_MEL_MEL_Y, "#7F7F7F", 0.8)]),
    box_panel(164, 40, 5, (2.65, 4.22), [3.0, 3.5, 4.0], "log\u2081\u2080 (total UMIs)",
              (UMI_MEL_LO, UMI_MEL_Q1, UMI_MEL_MED, UMI_MEL_Q3, UMI_MEL_HI, UMI_MEL_OUT), GRAY, False, XR_BL),
    box_panel(164, 40, 5, (-1.18, 3.55), [-1, 0, 1, 2, 3], "cell\u2212cycle score",
              (CC_MEL_LO, CC_MEL_Q1, CC_MEL_MED, CC_MEL_Q3, CC_MEL_HI, CC_MEL_OUT), GRAY, False, XR_BL),
    box_panel(164, 40, 5, (-1.54, 3.59), [-1, 0, 1, 2, 3], "pigment TF score",
              (PTF_MEL_LO, PTF_MEL_Q1, PTF_MEL_MED, PTF_MEL_Q3, PTF_MEL_HI, PTF_MEL_OUT), GRAY, False, XR_BL),
    box_panel(164, 40, 5, (-1.14, 4.22), [-1, 0, 1, 2, 3, 4], "melanin score",
              (MELANIN_LO, MELANIN_Q1, MELANIN_MED, MELANIN_Q3, MELANIN_HI, MELANIN_OUT), GRAY, True, XR_BL),
)

colBR = column(
    dens_panel(146, 31, 0, XR_BR, [(DENS_IRI_IRI_X, DENS_IRI_IRI_Y, "#A7BCF4", 0.9),
                                   (DENS_IRI_PROG_X, DENS_IRI_PROG_Y, "#E05CE0", 0.85)]),
    box_panel(146, 31, 0, (2.745, 4.21), [2.8, 3.2, 3.6, 4.0], "log\u2081\u2080 (total UMIs)",
              (UMI_IRI_LO, UMI_IRI_Q1, UMI_IRI_MED, UMI_IRI_Q3, UMI_IRI_HI, UMI_IRI_OUT), BBLUE, False, XR_BR),
    box_panel(146, 31, 0, (-1.2, 5.2), [-1, 0, 1, 2, 3, 4, 5], "cell\u2212cycle score",
              (CC_IRI_LO, CC_IRI_Q1, CC_IRI_MED, CC_IRI_Q3, CC_IRI_HI, CC_IRI_OUT), BBLUE, False, XR_BR),
    box_panel(146, 31, 0, (-1.54, 3.59), [-1, 0, 1, 2, 3], "pigment TF score",
              (PTF_IRI_LO, PTF_IRI_Q1, PTF_IRI_MED, PTF_IRI_Q3, PTF_IRI_HI, PTF_IRI_OUT), BBLUE, False, XR_BR),
    box_panel(146, 31, 0, (-1.14, 4.22), [-1, 0, 1, 2, 3, 4], "purine score",
              (PURINE_LO, PURINE_Q1, PURINE_MED, PURINE_Q3, PURINE_HI, PURINE_OUT), BBLUE, True, XR_BR),
)

# shared y label strip for panel A
strip = figure(width=8, height=387, x_range=Range1d(0, 1), y_range=Range1d(420, 17),
               output_backend="svg", toolbar_location=None,
               min_border_left=0, min_border_right=0, min_border_top=0, min_border_bottom=0)
clean(strip)
strip.axis.visible = False
strip.text(x=[0.5], y=[212], text=["expression"], angle=math.pi / 2,
           text_font=value(FONT), text_font_size=value("8.5px"), text_color="#222222",
           text_align="center", text_baseline="middle")

# header with lineage labels
hdr = figure(width=600, height=16, x_range=Range1d(0, 617), y_range=Range1d(17, 0),
             output_backend="svg", toolbar_location=None,
             min_border_left=0, min_border_right=0, min_border_top=0, min_border_bottom=0)
clean(hdr)
hdr.axis.visible = False
hdr.quad(left=[b[1] for b in HEADER_BOXES], right=[b[2] for b in HEADER_BOXES],
         top=[3.3] * len(HEADER_BOXES), bottom=[13.5] * len(HEADER_BOXES),
         fill_color=[b[3] for b in HEADER_BOXES], line_color=None)
hdr.text(x=[(b[1] + b[2]) / 2 for b in HEADER_BOXES], y=[8.6] * len(HEADER_BOXES),
         text=[b[0] for b in HEADER_BOXES], text_font=value(FONT), text_font_size=value("7.5px"),
         text_color="white", text_align="center", text_baseline="middle")
for a0, a1 in HEADER_ARROWS:
    hdr.add_layout(Arrow(end=NormalHead(size=4, fill_color="black", line_color="black"),
                         x_start=a0, y_start=8.4, x_end=a1, y_end=8.4, line_width=1, line_color="black"))
hdr.text(x=[1.5, 301.5], y=[8.5, 8.5], text=["A", "B"], text_font=value(FONT),
         text_font_size=value("15px"), text_color="black", text_align="left", text_baseline="middle")

layout = column(hdr, row(strip, colAL, colAR, colBL, colBR))

with open("out.html", "w") as f:
    f.write(file_html(layout, INLINE))
